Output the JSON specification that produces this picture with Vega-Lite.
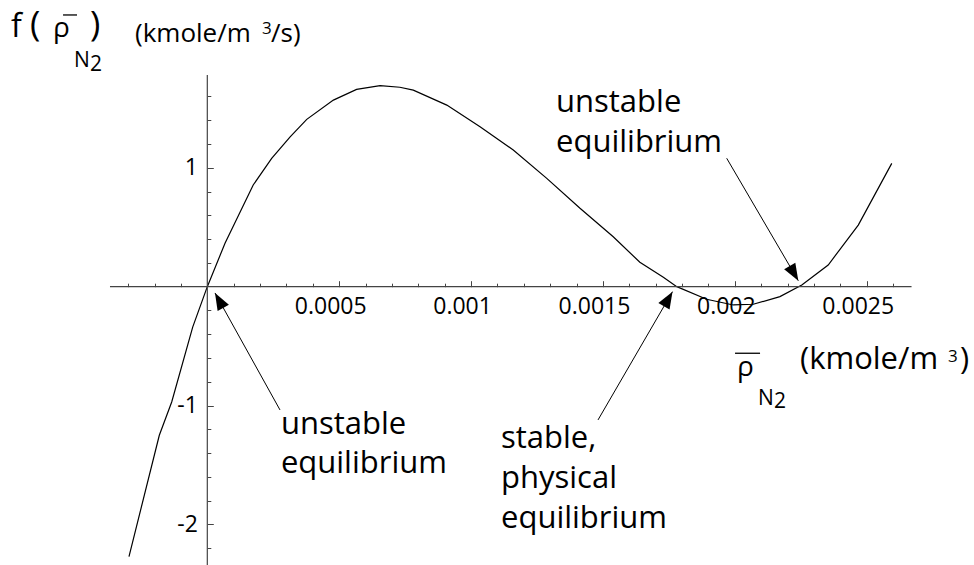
{
  "$schema": "https://vega.github.io/schema/vega-lite/v6.json",
  "width": 974,
  "height": 565,
  "padding": 0,
  "autosize": {"type": "none"},
  "background": "white",
  "config": {
    "view": {"stroke": null},
    "text": {"font": "Open Sans", "color": "black", "align": "left", "baseline": "alphabetic"},
    "axis": {"labelOverlap": false, "labelFlush": false, "labelBound": false, "domain": false, "grid": false, "title": null, "tickColor": "#444444", "tickWidth": 1, "labelFont": "Open Sans", "labelFontSize": 23, "labelColor": "black"}
  },
  "datasets": {
    "curve": [
      {"rho": -0.000297, "f": -2.27},
      {"rho": -0.000182, "f": -1.25},
      {"rho": -0.000135, "f": -0.97},
      {"rho": -0.0000554, "f": -0.34},
      {"rho": 0, "f": 0},
      {"rho": 0.0000671, "f": 0.365},
      {"rho": 0.000174, "f": 0.855},
      {"rho": 0.000244, "f": 1.079},
      {"rho": 0.000314, "f": 1.26},
      {"rho": 0.000377, "f": 1.407},
      {"rho": 0.000478, "f": 1.569},
      {"rho": 0.000566, "f": 1.659},
      {"rho": 0.000655, "f": 1.69},
      {"rho": 0.00073, "f": 1.677},
      {"rho": 0.000781, "f": 1.653},
      {"rho": 0.000908, "f": 1.527},
      {"rho": 0.001034, "f": 1.345},
      {"rho": 0.00116, "f": 1.149},
      {"rho": 0.001287, "f": 0.911},
      {"rho": 0.001413, "f": 0.659},
      {"rho": 0.001539, "f": 0.42},
      {"rho": 0.00164, "f": 0.205},
      {"rho": 0.001729, "f": 0.08},
      {"rho": 0.00178, "f": 0},
      {"rho": 0.001893, "f": -0.106},
      {"rho": 0.001994, "f": -0.154},
      {"rho": 0.00207, "f": -0.148},
      {"rho": 0.002171, "f": -0.084},
      {"rho": 0.002254, "f": 0.014},
      {"rho": 0.002354, "f": 0.182},
      {"rho": 0.002468, "f": 0.518},
      {"rho": 0.002595, "f": 1.037}
    ],
    "axisLines": [
      {"x1": -0.000369, "x2": 0.00267, "y1": 0, "y2": 0},
      {"x1": 0, "x2": 0, "y1": 1.78, "y2": -2.341}
    ],
    "arrows": [
      {"x1": 0.0002756, "y1": -1.037, "x2": 0.0000292, "y2": -0.053},
      {"x1": 0.0014813, "y1": -1.121, "x2": 0.0017637, "y2": -0.042},
      {"x1": 0.0019692, "y1": 1.08, "x2": 0.0022407, "y2": 0.05}
    ],
    "annotations": [
      {"t": "unstable", "x": 0.000279, "y": -1.2389},
      {"t": "equilibrium", "x": 0.000279, "y": -1.567},
      {"t": "stable,", "x": 0.0011135, "y": -1.3587},
      {"t": "physical", "x": 0.0011135, "y": -1.6931},
      {"t": "equilibrium", "x": 0.0011135, "y": -2.032},
      {"t": "unstable", "x": 0.0013221, "y": 1.4718},
      {"t": "equilibrium", "x": 0.0013221, "y": 1.1354}
    ],
    "fsym": [{"t": "f", "x": -0.0007442, "y": 2.1001}],
    "bigparen": [
      {"t": "(", "x": -0.0006722, "y": 2.1085},
      {"t": ")", "x": -0.0004447, "y": 2.1085}
    ],
    "rho": [
      {"t": "ρ", "x": -0.000585, "y": 2.1001},
      {"t": "ρ", "x": 0.0020082, "y": -0.7553}
    ],
    "subs": [
      {"t": "N", "x": -0.0005054, "y": 1.8478},
      {"t": "2", "x": -0.0004447, "y": 1.8141},
      {"t": "N", "x": 0.0020878, "y": -0.995},
      {"t": "2", "x": 0.0021484, "y": -1.0202}
    ],
    "unitsTop": [
      {"t": "(kmole/m", "x": -0.0002741, "y": 2.058},
      {"t": "/s)", "x": 0.0002415, "y": 2.058}
    ],
    "unitsBottom": [
      {"t": "(kmole/m", "x": 0.0022471, "y": -0.6922},
      {"t": ")", "x": 0.0028538, "y": -0.6922}
    ],
    "sups": [
      {"t": "3", "x": 0.0002074, "y": 2.1253},
      {"t": "3", "x": 0.0028083, "y": -0.6333}
    ],
    "overlines": [
      {"x1": -0.000547, "x2": -0.000494, "y": 2.2851},
      {"x1": 0.0020008, "x2": 0.0020956, "y": -0.5601}
    ]
  },
  "layer": [
    {
      "data": {"name": "curve"},
      "mark": {"type": "line", "color": "black", "strokeWidth": 1.2, "clip": false},
      "encoding": {
        "x": {
          "field": "rho", "type": "quantitative", "title": null,
          "scale": {"domain": [-0.000786, 0.0029068], "nice": false, "zero": false},
          "axis": {
            "orient": "bottom", "offset": -278.3, "tickCount": 500,
            "values": [-0.0003,-0.0002,-0.0001,0.0001,0.0002,0.0003,0.0004,0.0005,0.0006,0.0007,0.0008,0.0009,0.001,0.0011,0.0012,0.0013,0.0014,0.0015,0.0016,0.0017,0.0018,0.0019,0.002,0.0021,0.0022,0.0023,0.0024,0.0025,0.0026],
            "tickSize": {"condition": {"test": "abs(datum.value*2000-round(datum.value*2000))<0.001", "value": -6}, "value": -3.5},
            "labelExpr": "abs(datum.value*2000-round(datum.value*2000))<0.001 ? format(datum.value,'~g') : ''",
            "labelFont": "Open Sans", "labelFontSize": 23,
            "labelBaseline": "alphabetic", "labelPadding": 33, "labelOffset": -9,
            "labelOverlap": false
          }
        },
        "y": {
          "field": "f", "type": "quantitative", "title": null,
          "scale": {"domain": [-2.341, 2.411], "nice": false, "zero": false},
          "axis": {
            "orient": "left", "offset": -207.3, "tickCount": 500,
            "values": [-2.2,-2,-1.8,-1.6,-1.4,-1.2,-1,-0.8,-0.6,-0.4,-0.2,0.2,0.4,0.6,0.8,1,1.2,1.4,1.6],
            "tickSize": {"condition": {"test": "abs(datum.value-round(datum.value))<0.01", "value": -6}, "value": -3.5},
            "labelExpr": "abs(datum.value-round(datum.value))<0.01 ? ''+round(datum.value) : ''",
            "labelFont": "Open Sans", "labelFontSize": 23,
            "labelPadding": 16, "labelOverlap": false
          }
        }
      }
    },
    {
      "data": {"name": "axisLines"},
      "mark": {"type": "rule", "color": "#444444", "strokeWidth": 1.2},
      "encoding": {
        "x": {"field": "x1", "type": "quantitative", "title": null},
        "x2": {"field": "x2"},
        "y": {"field": "y1", "type": "quantitative", "title": null},
        "y2": {"field": "y2"}
      }
    },
    {
      "data": {"name": "arrows"},
      "mark": {"type": "rule", "color": "black", "strokeWidth": 1},
      "encoding": {
        "x": {"field": "x1", "type": "quantitative", "title": null},
        "y": {"field": "y1", "type": "quantitative", "title": null},
        "x2": {"field": "x2"},
        "y2": {"field": "y2"}
      }
    },
    {
      "data": {"name": "arrows"},
      "transform": [{"calculate": "atan2((datum.x2-datum.x1)*263760, (datum.y2-datum.y1)*118.9)*180/PI", "as": "ang"}],
      "mark": {"type": "point", "shape": "M0,0L-0.38,1L0.38,1Z", "size": 1156, "filled": true, "color": "black", "opacity": 1, "strokeWidth": 0},
      "encoding": {
        "x": {"field": "x2", "type": "quantitative", "title": null},
        "y": {"field": "y2", "type": "quantitative", "title": null},
        "angle": {"field": "ang", "type": "quantitative", "scale": null}
      }
    },
    {
      "data": {"name": "overlines"},
      "mark": {"type": "rule", "color": "black", "strokeWidth": 1.3},
      "encoding": {
        "x": {"field": "x1", "type": "quantitative", "title": null},
        "x2": {"field": "x2"},
        "y": {"field": "y", "type": "quantitative", "title": null}
      }
    },
    {
      "data": {"name": "annotations"},
      "mark": {"type": "text", "fontSize": 31},
      "encoding": {
        "x": {"field": "x", "type": "quantitative", "title": null},
        "y": {"field": "y", "type": "quantitative", "title": null},
        "text": {"field": "t"}
      }
    },
    {
      "data": {"name": "fsym"},
      "mark": {"type": "text", "fontSize": 32},
      "encoding": {
        "x": {"field": "x", "type": "quantitative", "title": null},
        "y": {"field": "y", "type": "quantitative", "title": null},
        "text": {"field": "t"}
      }
    },
    {
      "data": {"name": "bigparen"},
      "mark": {"type": "text", "fontSize": 35},
      "encoding": {
        "x": {"field": "x", "type": "quantitative", "title": null},
        "y": {"field": "y", "type": "quantitative", "title": null},
        "text": {"field": "t"}
      }
    },
    {
      "data": {"name": "rho"},
      "mark": {"type": "text", "fontSize": 28},
      "encoding": {
        "x": {"field": "x", "type": "quantitative", "title": null},
        "y": {"field": "y", "type": "quantitative", "title": null},
        "text": {"field": "t"}
      }
    },
    {
      "data": {"name": "subs"},
      "mark": {"type": "text", "fontSize": 21},
      "encoding": {
        "x": {"field": "x", "type": "quantitative", "title": null},
        "y": {"field": "y", "type": "quantitative", "title": null},
        "text": {"field": "t"}
      }
    },
    {
      "data": {"name": "unitsTop"},
      "mark": {"type": "text", "fontSize": 26},
      "encoding": {
        "x": {"field": "x", "type": "quantitative", "title": null},
        "y": {"field": "y", "type": "quantitative", "title": null},
        "text": {"field": "t"}
      }
    },
    {
      "data": {"name": "unitsBottom"},
      "mark": {"type": "text", "fontSize": 31},
      "encoding": {
        "x": {"field": "x", "type": "quantitative", "title": null},
        "y": {"field": "y", "type": "quantitative", "title": null},
        "text": {"field": "t"}
      }
    },
    {
      "data": {"name": "sups"},
      "mark": {"type": "text", "fontSize": 17},
      "encoding": {
        "x": {"field": "x", "type": "quantitative", "title": null},
        "y": {"field": "y", "type": "quantitative", "title": null},
        "text": {"field": "t"}
      }
    }
  ]
}
